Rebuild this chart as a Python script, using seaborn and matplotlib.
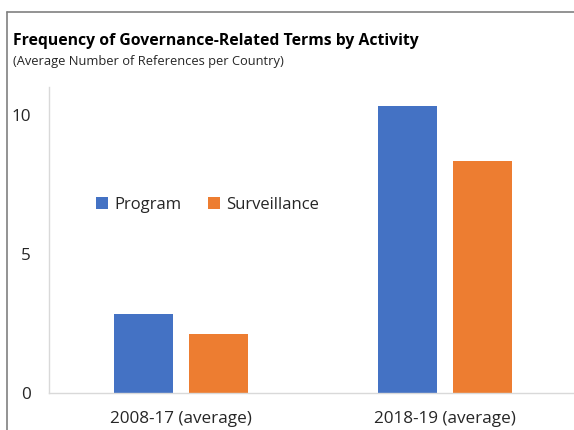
import matplotlib
matplotlib.use("Agg")
import matplotlib.pyplot as plt
import seaborn as sns
import pandas as pd
from matplotlib.lines import Line2D
from matplotlib.patches import Patch

categories = ["2008-17 (average)", "2018-19 (average)"]
series = ["Program", "Surveillance"]
program = [2.85, 10.3]
surveillance = [2.13, 8.35]
colors = ["#4472C4", "#ED7D31"]

df = pd.DataFrame({
    "period": categories * 2,
    "activity": [series[0]] * 2 + [series[1]] * 2,
    "value": program + surveillance,
})

sns.set_theme(style="white")
plt.rcParams["font.family"] = ["Open Sans", "DejaVu Sans"]

W, H = 574, 430
fig = plt.figure(figsize=(W / 100, H / 100), dpi=100)
ax = fig.add_axes([49 / W, 1 - 393 / H, 528 / W, (393 - 87) / H])

sns.barplot(data=df, x="period", y="value", hue="activity", palette=colors,
            width=0.568, gap=0.213, ax=ax, legend=False, saturation=1, linewidth=0)

ax.set_ylim(0, 11)
ax.set_xlim(-0.5, 1.5)
ax.set_yticks([0, 5, 10])
ax.set_xlabel("")
ax.set_ylabel("")
for s in ["top", "right"]:
    ax.spines[s].set_visible(False)
for s in ["left", "bottom"]:
    ax.spines[s].set_color("#D9D9D9")
    ax.spines[s].set_linewidth(1)
ax.tick_params(axis="both", length=0, labelsize=12.3, colors="#262626")
ax.tick_params(axis="y", pad=13)
ax.tick_params(axis="x", pad=13)

handles = [Patch(facecolor=c, edgecolor="none") for c in colors]
ax.legend(handles, series, loc="center left", bbox_to_anchor=(40 / 528, (393 - 205) / 306),
          frameon=False, fontsize=12, ncol=2, handlelength=0.75, handleheight=0.75,
          handletextpad=0.35, columnspacing=1.6, borderaxespad=0)

fig.text(13 / W, 1 - 41 / H, "Frequency of Governance-Related Terms by Activity",
         fontsize=11.3, fontweight="bold", color="black", va="center")
fig.text(13 / W, 1 - 62 / H, "(Average Number of References per Country)",
         fontsize=9.3, color="#262626", va="center")

# outer chart frame (top and left visible)
fig.add_artist(Line2D([7 / W, 1.05], [1 - 12 / H, 1 - 12 / H], transform=fig.transFigure,
                      color="#808080", lw=1.2))
fig.add_artist(Line2D([7 / W, 7 / W], [1 - 12 / H, -0.05], transform=fig.transFigure,
                      color="#808080", lw=1.2))

fig.savefig("out.png", dpi=100)
